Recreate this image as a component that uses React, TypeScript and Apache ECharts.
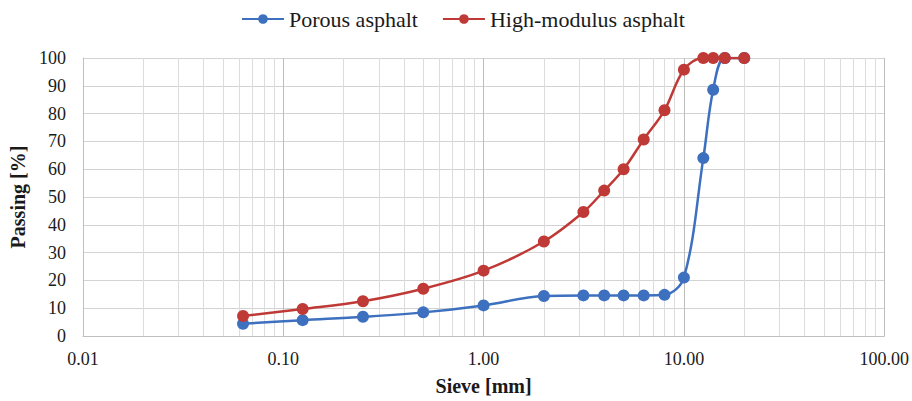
import React, { useEffect, useRef } from "react";
import * as echarts from "echarts";

const sieveSizes = [0.063, 0.125, 0.25, 0.5, 1, 2, 3.15, 4, 5, 6.3, 8, 10, 12.5, 14, 16, 20];
const porousAsphalt = [4.4, 5.7, 6.9, 8.5, 11, 14.4, 14.6, 14.6, 14.6, 14.6, 14.8, 21, 64, 88.6, 100, 100];
const highModulusAsphalt = [7.2, 9.7, 12.5, 17, 23.5, 34, 44.6, 52.3, 60, 70.7, 81.2, 95.8, 100, 100, 100, 100];
const minorGridValues = [
  0.02, 0.03, 0.04, 0.05, 0.06, 0.07, 0.08, 0.09,
  0.2, 0.3, 0.4, 0.5, 0.6, 0.7, 0.8, 0.9,
  2, 3, 4, 5, 6, 7, 8, 9,
  20, 30, 40, 50, 60, 70, 80, 90,
];
const seriesNames = ["Porous asphalt", "High-modulus asphalt"];
const xAxisTitle = "Sieve [mm]";
const yAxisTitle = "Passing [%]";

const FONT = "Liberation Serif";

export default function App() {
  const ref = useRef<HTMLDivElement>(null);
  useEffect(() => {
    if (!ref.current) return;
    const chart = echarts.init(ref.current, undefined, { renderer: "svg" });
    const pairs = (ys: number[]) => sieveSizes.map((x, i) => [x, ys[i]]);
    chart.setOption({
      animation: false,
      backgroundColor: "#ffffff",
      textStyle: { fontFamily: FONT },
      legend: {
        top: 3,
        left: 236,
        itemWidth: 42,
        itemHeight: 12,
        itemGap: 24,
        textStyle: { fontFamily: FONT, fontSize: 22, color: "#1a1a1a" },
        data: seriesNames,
      },
      grid: { left: 82, right: 27, top: 58, bottom: 64 },
      xAxis: {
        type: "log",
        logBase: 10,
        min: 0.01,
        max: 100,
        name: xAxisTitle,
        nameLocation: "middle",
        nameGap: 40,
        nameTextStyle: { fontFamily: FONT, fontSize: 20, fontWeight: "bold", color: "#1a1a1a" },
        axisLine: { show: true, lineStyle: { color: "#bfbfbf", width: 1 } },
        axisTick: { show: false },
        axisLabel: {
          fontFamily: FONT,
          fontSize: 18,
          color: "#1a1a1a",
          margin: 14,
          formatter: (v: number) => v.toFixed(2),
        },
        splitLine: { show: true, lineStyle: { color: "#bdbdbd", width: 1 } },
      },
      yAxis: {
        type: "value",
        min: 0,
        max: 100,
        interval: 10,
        name: yAxisTitle,
        nameLocation: "middle",
        nameGap: 48,
        nameTextStyle: { fontFamily: FONT, fontSize: 20, fontWeight: "bold", color: "#1a1a1a" },
        axisLine: { show: true, lineStyle: { color: "#bfbfbf", width: 1 } },
        axisTick: { show: false },
        axisLabel: { fontFamily: FONT, fontSize: 18, color: "#1a1a1a", margin: 17 },
        splitLine: { show: true, lineStyle: { color: "#d3d3d3", width: 1 } },
      },
      series: [
        {
          name: seriesNames[0],
          type: "line",
          data: pairs(porousAsphalt),
          smooth: 0.35,
          symbol: "circle",
          symbolSize: 12,
          itemStyle: { color: "#3D70BE" },
          lineStyle: { color: "#3D70BE", width: 2.5 },
          z: 3,
          markLine: {
            silent: true,
            symbol: ["none", "none"],
            label: { show: false },
            lineStyle: { color: "#dcdcdc", width: 1, type: "solid" },
            data: minorGridValues.map((v) => ({ xAxis: v })),
            z: 1,
          },
        },
        {
          name: seriesNames[1],
          type: "line",
          data: pairs(highModulusAsphalt),
          smooth: 0.35,
          symbol: "circle",
          symbolSize: 12,
          itemStyle: { color: "#BF3A36" },
          lineStyle: { color: "#BF3A36", width: 2.5 },
          z: 4,
        },
      ],
    });
    return () => chart.dispose();
  }, []);
  return (
    <div
      ref={ref}
      style={{ position: "absolute", left: 0, top: 0, width: 912, height: 401 }}
    />
  );
}
